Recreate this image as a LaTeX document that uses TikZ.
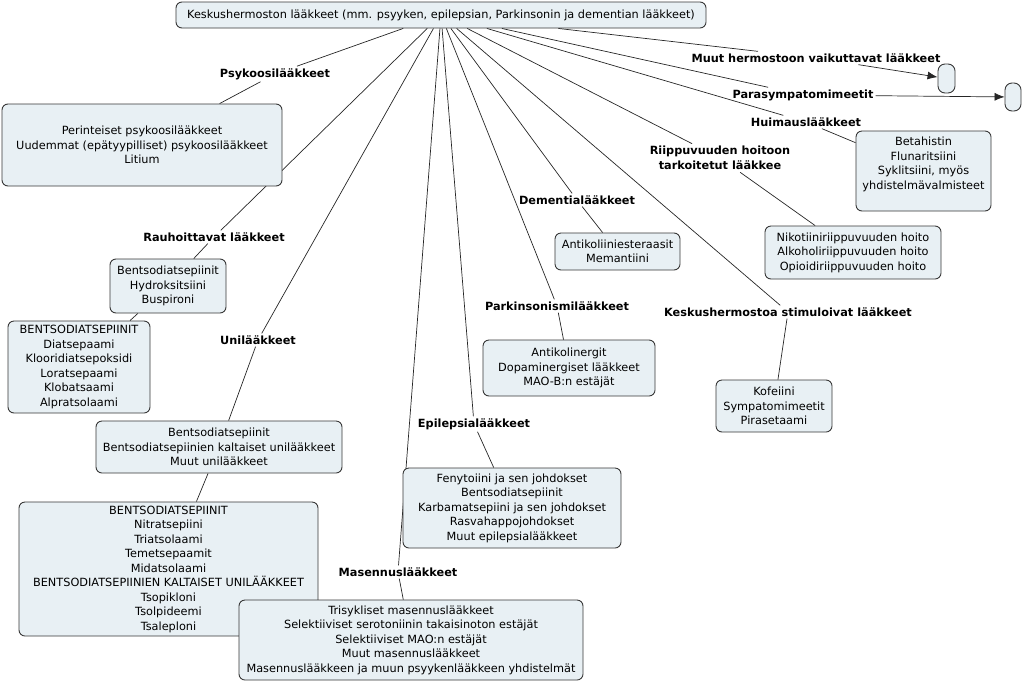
\documentclass[tikz,border=0pt]{standalone}
\usepackage{fontspec}
\setmainfont{DejaVu Sans}
\usepackage{tikz}
\usetikzlibrary{arrows.meta, positioning}
\definecolor{conceptfill}{RGB}{232,240,244}
\definecolor{conceptdraw}{RGB}{55,55,55}
\tikzset{
    concept/.style={draw=conceptdraw, fill=conceptfill, rectangle, rounded corners=6pt, align=center, line width=0.9pt, inner sep=3pt, font=\fontsize{11.3}{14.5}\selectfont},
    linkphrase/.style={rectangle, align=center, inner sep=2pt, font=\fontsize{11.3}{15.5}\selectfont\bfseries},
    stub/.style={draw=conceptdraw, fill=conceptfill, rectangle, rounded corners=7pt, line width=0.9pt, minimum width=17pt, minimum height=29pt, inner sep=0pt},
    link/.style={draw=black!85, line width=0.7pt},
    arrow/.style={link, -{Latex[length=10pt, width=8pt]}}
}

\begin{document}
\begin{tikzpicture}[x=1pt, y=-1pt]
        \useasboundingbox (0,0) rectangle (1024,683);

        % -----------------------------------------------------------------
        % JUURI
        % -----------------------------------------------------------------
        \node[concept, minimum width=530pt, minimum height=26pt] (root) at (441,15) {Keskushermoston lääkkeet (mm. psyyken, epilepsian, Parkinsonin ja dementian lääkkeet)};

        % -----------------------------------------------------------------
        % LINKKIFRAASIT
        % -----------------------------------------------------------------
        \node[linkphrase] (psyk) at (275,74) {Psykoosilääkkeet};
        \node[linkphrase] (muut) at (816,58) {Muut hermostoon vaikuttavat lääkkeet};
        \node[linkphrase] (para) at (803,95) {Parasympatomimeetit};
        \node[linkphrase] (huim) at (806,122) {Huimauslääkkeet};
        \node[linkphrase] (riip) at (720,158) {Riippuvuuden hoitoon\\tarkoitetut lääkkee};
        \node[linkphrase] (deme) at (577,200) {Dementialääkkeet};
        \node[linkphrase] (rauh) at (214,237) {Rauhoittavat lääkkeet};
        \node[linkphrase] (park) at (557,306) {Parkinsonismilääkkeet};
        \node[linkphrase] (stim) at (788,312) {Keskushermostoa stimuloivat lääkkeet};
        \node[linkphrase] (uni) at (258,340) {Unilääkkeet};
        \node[linkphrase] (epil) at (474,424) {Epilepsialääkkeet};
        \node[linkphrase] (mase) at (398,572) {Masennuslääkkeet};

        \foreach \l in {psyk,muut,para,huim,riip,deme,rauh,park,stim,uni,epil,mase}
            \draw[link] (root) -- (\l);

        % -----------------------------------------------------------------
        % KONSEPTIT
        % -----------------------------------------------------------------
        \node[concept, minimum width=280pt, minimum height=82pt] (psykbox) at (142,145) {Perinteiset psykoosilääkkeet\\Uudemmat (epätyypilliset) psykoosilääkkeet\\Litium};
        \node[stub] (muutbox) at (946.5,78.5) {};
        \node[stub, minimum width=16pt, minimum height=28pt] (parabox) at (1013,97) {};
        \node[concept, minimum width=135pt, minimum height=80pt] (huimbox) at (923.5,171) {Betahistin\\Flunaritsiini\\Syklitsiini, myös\\yhdistelmävalmisteet\\[1pt]};
        \node[concept, minimum width=176pt, minimum height=53pt] (riipbox) at (853,252.5) {Nikotiiniriippuvuuden hoito\\Alkoholiriippuvuuden hoito\\Opioidiriippuvuuden hoito};
        \node[concept, minimum width=125pt, minimum height=37pt] (demebox) at (617.5,251.5) {Antikoliiniesteraasit\\Memantiini};
        \node[concept, minimum width=116pt, minimum height=54pt] (rauhbox) at (168,286) {Bentsodiatsepiinit\\Hydroksitsiini\\Buspironi};
        \node[concept, minimum width=142pt, minimum height=92pt] (rauhbentso) at (79,367) {BENTSODIATSEPIINIT\\Diatsepaami\\Klooridiatsepoksidi\\Loratsepaami\\Klobatsaami\\Alpratsolaami};
        \node[concept, minimum width=172pt, minimum height=56pt] (parkbox) at (569,368) {Antikolinergit\\Dopaminergiset lääkkeet\\MAO-B:n estäjät};
        \node[concept, minimum width=116pt, minimum height=52pt] (stimbox) at (774,406) {Kofeiini\\Sympatomimeetit\\Pirasetaami};
        \node[concept, minimum width=246pt, minimum height=52pt] (unibox) at (219,447) {Bentsodiatsepiinit\\Bentsodiatsepiinien kaltaiset unilääkkeet\\Muut unilääkkeet};
        \node[concept, minimum width=218pt, minimum height=80pt] (epilbox) at (512,508) {Fenytoiini ja sen johdokset\\Bentsodiatsepiinit\\Karbamatsepiini ja sen johdokset\\Rasvahappojohdokset\\Muut epilepsialääkkeet};
        \node[concept, minimum width=299pt, minimum height=134pt] (unibentso) at (168.5,569) {BENTSODIATSEPIINIT\\Nitratsepiini\\Triatsolaami\\Temetsepaamit\\Midatsolaami\\BENTSODIATSEPIINIEN KALTAISET UNILÄÄKKEET\\Tsopikloni\\Tsolpideemi\\Tsaleploni};
        \node[concept, minimum width=344pt, minimum height=80pt] (masebox) at (411,640) {Trisykliset masennuslääkkeet\\Selektiiviset serotoniinin takaisinoton estäjät\\Selektiiviset MAO:n estäjät\\Muut masennuslääkkeet\\Masennuslääkkeen ja muun psyykenlääkkeen yhdistelmät};

        % -----------------------------------------------------------------
        % YHTEYDET
        % -----------------------------------------------------------------
        \draw[link] (psyk) -- (psykbox);
        \draw[arrow] (muut) -- (muutbox);
        \draw[arrow] (para) -- (parabox);
        \draw[link] (huim) -- (huimbox);
        \draw[link] (riip) -- (riipbox);
        \draw[link] (deme) -- (demebox);
        \draw[link] (rauh) -- (rauhbox);
        \draw[link] (rauhbox) -- (rauhbentso);
        \draw[link] (park) -- (parkbox);
        \draw[link] (stim) -- (stimbox);
        \draw[link] (uni) -- (unibox);
        \draw[link] (unibox) -- (unibentso);
        \draw[link] (epil) -- (epilbox);
        \draw[link] (mase) -- (masebox);

    \end{tikzpicture}
\end{document}
